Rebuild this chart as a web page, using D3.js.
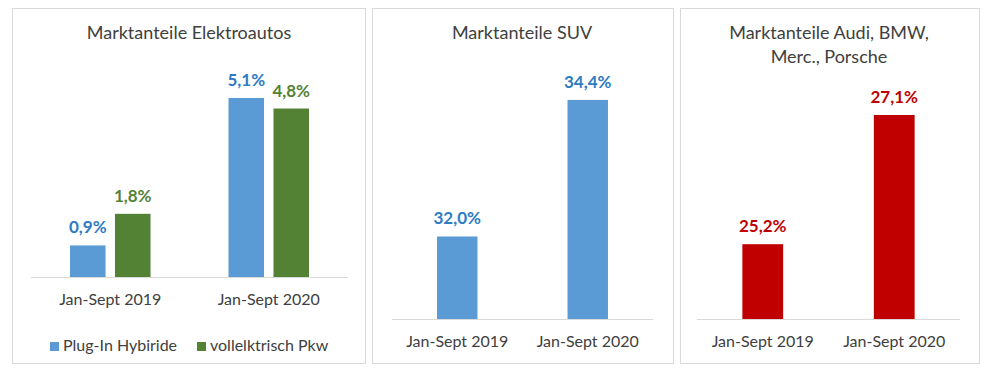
<!DOCTYPE html>
<html>
<head>
<meta charset="utf-8">
<script src="https://cdn.jsdelivr.net/npm/d3@7"></script>
<style>
  body { margin: 0; background: #fff; }
  svg text { font-family: Lato, "Open Sans", sans-serif; }
</style>
</head>
<body>
<div id="chart"></div>
<script>
(function () {
  'use strict';

  // --- data ---
  var categories = ['Jan-Sept 2019', 'Jan-Sept 2020'];
  var seriesNames = ['Plug-In Hybiride', 'vollelktrisch Pkw'];
  var plugInHybride = [0.9, 5.1];
  var vollelektrisch = [1.8, 4.8];
  var suvShare = [32.0, 34.4];
  var premiumShare = [25.2, 27.1];
  var titles = ['Marktanteile Elektroautos', 'Marktanteile SUV', 'Marktanteile Audi, BMW,|Merc., Porsche'];

  var BLUE = '#5b9bd5', BLUE_TXT = '#2e7bc4';
  var GREEN = '#548235', GREEN_TXT = '#548235';
  var RED = '#c00000', RED_TXT = '#c00000';
  var GREY = '#404040';

  var fmt = function (v) { return d3.format('.1f')(v).replace('.', ',') + '%'; };

  var svg = d3.select('#chart').append('svg')
    .attr('width', 1000).attr('height', 375);

  function frame(x0, x1) {
    svg.append('rect')
      .attr('x', x0 + 0.5).attr('y', 8.5)
      .attr('width', x1 - x0).attr('height', 355)
      .attr('fill', '#fff').attr('stroke', '#d9d9d9').attr('stroke-width', 1);
  }

  function title(cx, text) {
    text.split('|').forEach(function (line, i) {
      svg.append('text').attr('x', cx).attr('y', 39 + i * 24)
        .attr('text-anchor', 'middle').attr('fill', GREY)
        .style('font-size', '18px').text(line);
    });
  }

  function baseline(x0, x1, y) {
    svg.append('line').attr('x1', x0).attr('x2', x1)
      .attr('y1', y + 0.5).attr('y2', y + 0.5)
      .attr('stroke', '#d9d9d9').attr('stroke-width', 1);
  }

  function catLabels(x, y, off) {
    categories.forEach(function (c) {
      svg.append('text').attr('x', x(c) + off).attr('y', y)
        .attr('text-anchor', 'middle').attr('fill', GREY)
        .style('font-size', '16px').text(c);
    });
  }

  function valueLabel(cx, y, v, color) {
    svg.append('text').attr('x', cx).attr('y', y - 12)
      .attr('text-anchor', 'middle').attr('fill', color)
      .style('font-size', '17px').style('font-weight', 'bold').text(fmt(v));
  }

  // --- panel 1: Elektroautos (grouped) ---
  frame(12, 365);
  title(189, titles[0]);
  var x1 = d3.scaleBand().domain(categories).range([31, 348]).paddingInner(0.492).paddingOuter(0.246);
  var xs = d3.scaleBand().domain(seriesNames).range([0, x1.bandwidth()]).paddingInner(0.21);
  var y1 = d3.scaleLinear().domain([0, 6]).range([277, 277 - 6 * 35.1]);
  var series = [plugInHybride, vollelektrisch];
  var sColors = [BLUE, GREEN], sText = [BLUE_TXT, GREEN_TXT];
  series.forEach(function (vals, si) {
    svg.selectAll('.bar-e' + si).data(vals).enter().append('rect')
      .attr('class', 'bar-e' + si)
      .attr('x', function (d, i) { return x1(categories[i]) + xs(seriesNames[si]); })
      .attr('y', function (d) { return y1(d); })
      .attr('width', xs.bandwidth())
      .attr('height', function (d) { return y1(0) - y1(d); })
      .attr('fill', sColors[si]);
    vals.forEach(function (v, i) {
      valueLabel(x1(categories[i]) + xs(seriesNames[si]) + xs.bandwidth() / 2, y1(v), v, sText[si]);
    });
  });
  baseline(31, 348, 277);
  catLabels(x1, 305, x1.bandwidth() / 2);

  // legend
  var legX = [50, 197];
  seriesNames.forEach(function (n, i) {
    svg.append('rect').attr('x', legX[i]).attr('y', 342).attr('width', 9).attr('height', 9).attr('fill', sColors[i]);
    svg.append('text').attr('x', legX[i] + 13).attr('y', 351).attr('fill', GREY)
      .style('font-size', '16px').text(n);
  });

  // --- single-series panels ---
  function simplePanel(fx0, fx1, cx, ttl, r0, r1, vals, dom, pxPer, fill, txt) {
    frame(fx0, fx1);
    title(cx, ttl);
    var x = d3.scaleBand().domain(categories).range([r0, r1]).paddingInner(0.69).paddingOuter(0.345);
    var y = d3.scaleLinear().domain(dom).range([319, 319 - (dom[1] - dom[0]) * pxPer]);
    svg.selectAll(null).data(vals).enter().append('rect')
      .attr('x', function (d, i) { return x(categories[i]); })
      .attr('y', function (d) { return y(d); })
      .attr('width', x.bandwidth())
      .attr('height', function (d) { return y(dom[0]) - y(d); })
      .attr('fill', fill);
    vals.forEach(function (v, i) {
      valueLabel(x(categories[i]) + x.bandwidth() / 2, y(v), v, txt);
    });
    baseline(r0, r1, 319);
    catLabels(x, 347, x.bandwidth() / 2);
  }

  simplePanel(372, 673, 522, titles[1], 392, 653, suvShare, [30.55, 35], 56.9, BLUE, BLUE_TXT);
  simplePanel(680, 979, 829, titles[2], 697, 960, premiumShare, [24.1, 28], 68, RED, RED_TXT);
})();
</script>
</body>
</html>
